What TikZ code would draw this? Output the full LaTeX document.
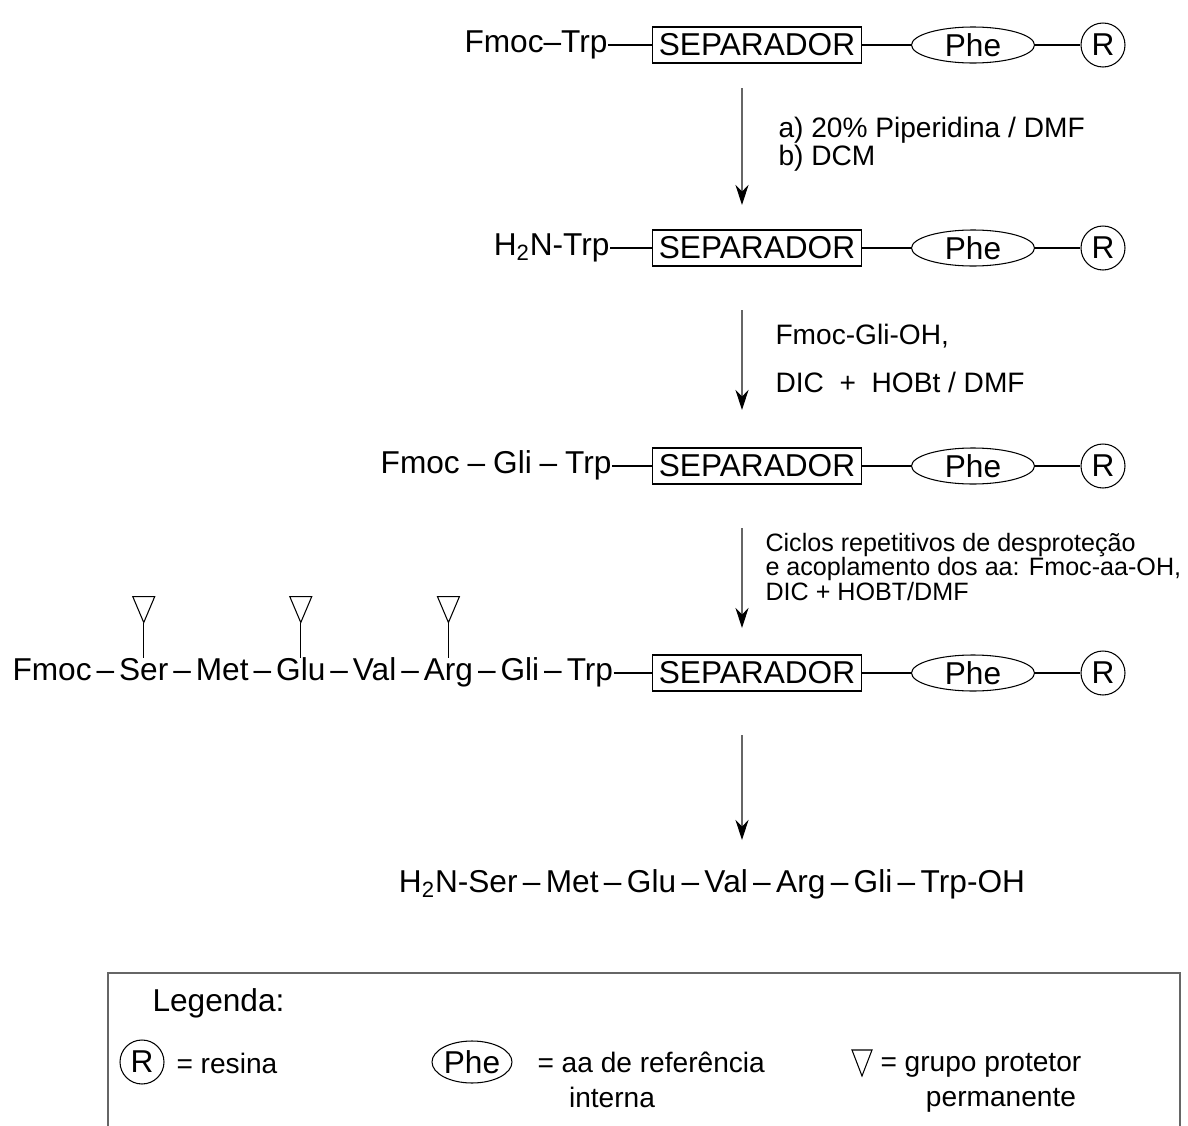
\documentclass[tikz,border=0pt]{standalone}
\usepackage{fontspec}
\setmainfont{Liberation Sans}
\usetikzlibrary{arrows.meta}
\usetikzlibrary{shapes.geometric}
\usetikzlibrary{positioning,calc}

\newcommand{\fsz}[1]{\fontsize{#1}{#1}\selectfont}
\newcommand{\dsh}{\hspace{.17em}–\hspace{.17em}}

\begin{document}
\begin{tikzpicture}[x=.02cm, y=-.02cm, line width=.6pt,
  pep/.style={inner sep=0pt, text height=13pt, text depth=4pt, font=\fsz{18}},
  sepbox/.style={draw, minimum width=4.18cm, minimum height=.72cm, inner sep=0pt, font=\fsz{18}},
  phebox/.style={draw, ellipse, minimum width=2.46cm, minimum height=.72cm, inner sep=0pt, font=\fsz{18}},
  resbox/.style={draw, circle, minimum size=.88cm, inner sep=0pt, font=\fsz{18}},
  reag/.style={anchor=west, align=left, inner sep=0pt, font=\fsz{16}},
  legtext/.style={inner sep=0pt, font=\fsz{16}},
  arr/.style={draw=black!60, ->, >={Stealth[length=4mm, width=2.6mm, color=black]}}]
\useasboundingbox (0,0) rectangle (1188,1126);

% resin side of every row
\foreach \n/\y in {1/45, 2/248, 3/466, 4/673} {
  \node[sepbox] (sep\n) at (757,\y) {SEPARADOR};
  \node[phebox] (phe\n) at (973,\y) {Phe};
  \node[resbox] (r\n) at (1103,\y) {R};
  \draw (sep\n) -- (phe\n) -- (r\n);
}

% peptide side
\node[pep, anchor=east] (pep1) at (608,45) {Fmoc–Trp};
\node[pep, anchor=east] (pep2) at (610,248) {H\textsubscript{2}N-Trp};
\node[pep, anchor=east] (pep3) at (612,466) {Fmoc\hspace{.25em}–\hspace{.25em}Gli\hspace{.25em}–\hspace{.25em}Trp};
\foreach \n in {1,2,3}
  \draw (pep\n) -- (sep\n);

\node[pep, anchor=west] (fmoc) at (12,673) {Fmoc};
\node[pep, right=.53cm of fmoc] (ser) {Ser};
\node[pep, right=.53cm of ser] (met) {Met};
\node[pep, right=.53cm of met] (glu) {Glu};
\node[pep, right=.53cm of glu] (val) {Val};
\node[pep, right=.53cm of val] (arg) {Arg};
\node[pep, right=.53cm of arg] (gli) {Gli};
\node[pep, right=.53cm of gli] (trp) {Trp};
\foreach \a/\b in {fmoc/ser, ser/met, met/glu, glu/val, val/arg, arg/gli, gli/trp}
  \node[pep] at ($(\a.east)!.5!(\b.west)$) {–};
\draw (trp) -- (sep4);

% permanent protecting groups
\foreach \a in {ser, glu, arg} {
  \draw (\a.north) -- ++(0,-35) coordinate (tip\a);
  \draw (tip\a) -- ++(-11,-26) -- ++(22,0) -- cycle;
}

% reaction arrows
\foreach \n/\ya/\yb in {1/88/205, 2/310/410, 3/528/628, 4/735/840} {
  \coordinate (a\n) at (742,\ya);
  \coordinate (b\n) at (742,\yb);
  \draw[arr] (a\n) -- (b\n);
}
\node[reag] (cond1) at (778,144) {a) 20\% Piperidina / DMF\\b) DCM};
\node[reag] (cond2) at (775,336) {Fmoc-Gli-OH,};
\node[reag] (cond3) at (775,382) {DIC\ \ +\ \ HOBt / DMF};
\node[reag, font=\fontsize{14.3}{13.7}\selectfont] (cond4) at (765,567)
  {Ciclos repetitivos de desproteção\\e acoplamento dos aa: Fmoc-aa-OH,\\DIC + HOBT/DMF};

\node[pep] (prod) at (712,885)
  {H\textsubscript{2}N-Ser\dsh Met\dsh Glu\dsh Val\dsh Arg\dsh Gli\dsh Trp-OH};

% legend
\draw[black!60] (108,1126) -- (108,973) -- (1180,973) -- (1180,1126);
\node[inner sep=0pt, anchor=west, font=\fsz{18}] (leg) at (152,1003) {Legenda:};
\node[resbox] (lres) at (142,1062) {R};
\node[legtext, anchor=west] (lrest) at (176,1063) {= resina};
\node[phebox, minimum width=1.6cm, minimum height=.84cm] (lphe) at (472,1062) {Phe};
\node[legtext, anchor=west] (lphet) at (537,1062) {= aa de referência};
\node[legtext] (lphet2) at (612,1097) {interna};
\draw (852,1050) -- (872,1050) -- (862,1076) -- cycle;
\node[legtext, anchor=west] (lprot) at (880,1065) {= grupo protetor};
\node[legtext] (lprot2) at (1001,1100) {permanente};
\end{tikzpicture}
\end{document}
